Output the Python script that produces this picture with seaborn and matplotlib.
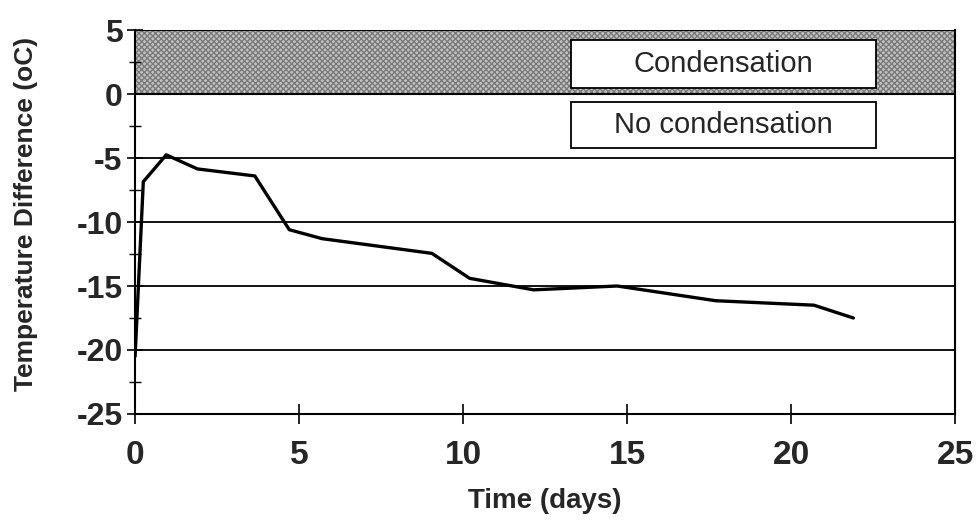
import matplotlib
matplotlib.use("Agg")
import matplotlib.pyplot as plt
from matplotlib.patches import Rectangle
from matplotlib.ticker import MultipleLocator
import pandas as pd
import seaborn as sns

# values
days = [0, 0.25, 0.95, 1.9, 3.65, 4.7, 5.7, 9.05, 10.2, 12.15, 14.7, 17.7, 20.7, 21.9]
temp_diff = [-20.5, -6.85, -4.75, -5.85, -6.4, -10.6, -11.3, -12.45, -14.4, -15.3,
             -15.0, -16.15, -16.5, -17.5]
x_ticks = [0, 5, 10, 15, 20, 25]
y_ticks = [5, 0, -5, -10, -15, -20, -25]
grid_levels = [-5, -10, -15, -20]
zone_labels = ["Condensation", "No condensation"]

df = pd.DataFrame({"days": days, "diff": temp_diff})

sns.set_style("ticks")
plt.rcParams["font.family"] = ["Liberation Sans", "DejaVu Sans"]

fig = plt.figure(figsize=(9.79, 5.28), dpi=100)
ax = fig.add_axes([0.138, 0.216, 0.8375, 0.727])

# condensation zone
ax.add_patch(Rectangle((0, 0), 25, 5, facecolor="#c4c4c4", edgecolor="#7a7a7a",
                       hatch="xxxxxx", linewidth=0, zorder=0))
ax.plot([0, 25], [5, 5], color="black", lw=1.5, zorder=2)
ax.plot([0, 25], [0, 0], color="black", lw=1.5, zorder=2)

for lvl in grid_levels:
    ax.axhline(lvl, color="black", lw=1.3, zorder=1)

sns.lineplot(data=df, x="days", y="diff", color="black", linewidth=2.4, ax=ax, zorder=3)

# label boxes
boxes = [(13.3, 0.5, 9.3, 3.7), (13.3, -4.2, 9.3, 3.55)]
for (bx, by, bw, bh), txt in zip(boxes, zone_labels):
    ax.add_patch(Rectangle((bx, by), bw, bh, facecolor="white", edgecolor="black",
                           linewidth=1.3, zorder=4))
    ax.text(bx + bw / 2, by + bh / 2, txt, ha="center", va="center",
            fontsize=21, zorder=5)

ax.set_xlim(0, 25)
ax.set_ylim(-25, 5)
ax.set_xticks(x_ticks)
ax.set_yticks(y_ticks)
ax.yaxis.set_minor_locator(MultipleLocator(2.5))
ax.set_xticklabels([str(t) for t in x_ticks], fontsize=24, fontweight="bold")
ax.set_yticklabels([str(t) for t in y_ticks], fontsize=23, fontweight="bold")
ax.tick_params(axis="both", which="both", direction="inout", color="black")
ax.tick_params(axis="x", which="major", length=14, width=1.2, pad=12)
ax.tick_params(axis="y", which="major", length=12, width=1.2, pad=3)
ax.tick_params(axis="y", which="minor", length=8, width=1.0)

for side in ["left", "bottom", "right"]:
    ax.spines[side].set_color("black")
    ax.spines[side].set_linewidth(1.5)
ax.spines["top"].set_visible(False)

ax.set_xlabel("Time (days)", fontsize=20, fontweight="bold", labelpad=12)
ax.set_ylabel("Temperature Difference (oC)", fontsize=19, fontweight="bold")
ax.yaxis.set_label_coords(-0.118, 0.52)

fig.savefig("out.png", dpi=100)
